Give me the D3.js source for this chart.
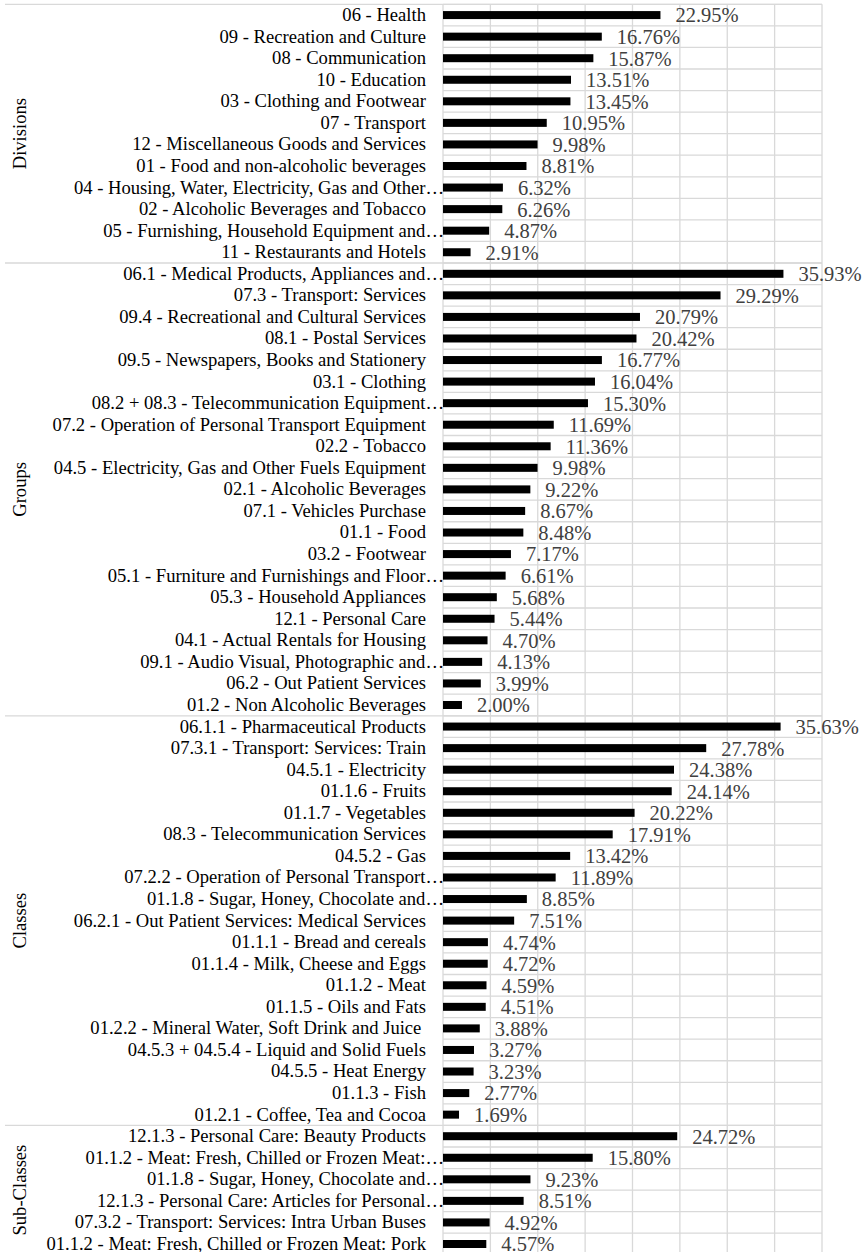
<!DOCTYPE html>
<html>
<head>
<meta charset="utf-8">
<script src="https://cdn.jsdelivr.net/npm/d3@7"></script>
<style>
  body { margin: 0; background: #fff; }
</style>
</head>
<body>
<svg id="chart" width="867" height="1252"></svg>
<script>
const sectionNames = ["Divisions", "Groups", "Classes", "Sub-Classes"];

const divisionLabels = [
  "06 - Health", "09 - Recreation and Culture", "08 - Communication", "10 - Education",
  "03 - Clothing and Footwear", "07 - Transport", "12 - Miscellaneous Goods and Services",
  "01 - Food and non-alcoholic beverages", "04 - Housing, Water, Electricity, Gas and Other…",
  "02 - Alcoholic Beverages and Tobacco", "05 - Furnishing, Household Equipment and…",
  "11 - Restaurants and Hotels"
];
const divisionValues = [22.95, 16.76, 15.87, 13.51, 13.45, 10.95, 9.98, 8.81, 6.32, 6.26, 4.87, 2.91];

const groupLabels = [
  "06.1 - Medical Products, Appliances and…", "07.3 - Transport: Services",
  "09.4 - Recreational and Cultural Services", "08.1 - Postal Services",
  "09.5 - Newspapers, Books and Stationery", "03.1 - Clothing",
  "08.2 + 08.3 - Telecommunication Equipment…", "07.2 - Operation of Personal Transport Equipment",
  "02.2 - Tobacco", "04.5 - Electricity, Gas and Other Fuels Equipment",
  "02.1 - Alcoholic Beverages", "07.1 - Vehicles Purchase", "01.1 - Food", "03.2 - Footwear",
  "05.1 - Furniture and Furnishings and Floor…", "05.3 - Household Appliances",
  "12.1 - Personal Care", "04.1 - Actual Rentals for Housing",
  "09.1 - Audio Visual, Photographic and…", "06.2 - Out Patient Services",
  "01.2 - Non Alcoholic Beverages"
];
const groupValues = [35.93, 29.29, 20.79, 20.42, 16.77, 16.04, 15.30, 11.69, 11.36, 9.98, 9.22,
  8.67, 8.48, 7.17, 6.61, 5.68, 5.44, 4.70, 4.13, 3.99, 2.00];

const classLabels = [
  "06.1.1 - Pharmaceutical Products", "07.3.1 - Transport: Services: Train",
  "04.5.1 - Electricity", "01.1.6 - Fruits", "01.1.7 - Vegetables",
  "08.3 - Telecommunication Services", "04.5.2 - Gas",
  "07.2.2 - Operation of Personal Transport…", "01.1.8 - Sugar, Honey, Chocolate and…",
  "06.2.1 - Out Patient Services: Medical Services", "01.1.1 - Bread and cereals",
  "01.1.4 - Milk, Cheese and Eggs", "01.1.2 - Meat", "01.1.5 - Oils and Fats",
  "01.2.2 - Mineral Water, Soft Drink and Juice ", "04.5.3 + 04.5.4 - Liquid and Solid Fuels",
  "04.5.5 - Heat Energy", "01.1.3 - Fish", "01.2.1 - Coffee, Tea and Cocoa"
];
const classValues = [35.63, 27.78, 24.38, 24.14, 20.22, 17.91, 13.42, 11.89, 8.85, 7.51, 4.74,
  4.72, 4.59, 4.51, 3.88, 3.27, 3.23, 2.77, 1.69];

const subClassLabels = [
  "12.1.3 - Personal Care: Beauty Products", "01.1.2 - Meat: Fresh, Chilled or Frozen Meat:…",
  "01.1.8 - Sugar, Honey, Chocolate and…", "12.1.3 - Personal Care: Articles for Personal…",
  "07.3.2 - Transport: Services: Intra Urban Buses",
  "01.1.2 - Meat: Fresh, Chilled or Frozen Meat: Pork"
];
const subClassValues = [24.72, 15.80, 9.23, 8.51, 4.92, 4.57];

const xTicks = [0, 5, 10, 15, 20, 25, 30, 35, 40];

// build the flat row list
const sections = [
  { name: sectionNames[0], labels: divisionLabels, values: divisionValues },
  { name: sectionNames[1], labels: groupLabels, values: groupValues },
  { name: sectionNames[2], labels: classLabels, values: classValues },
  { name: sectionNames[3], labels: subClassLabels, values: subClassValues }
];
const rows = [];
sections.forEach((s, si) => {
  s.start = rows.length;
  s.labels.forEach((l, i) => rows.push({ label: l, value: s.values[i], section: si }));
  s.end = rows.length;
});

const font = "'Liberation Serif', 'Times New Roman', serif";
const svg = d3.select("#chart").attr("font-family", font);
const plotTop = 4.3, step = 21.56;
const plotLeft = 443, plotRight = 822;

const x = d3.scaleLinear().domain([0, 40]).range([plotLeft, plotRight]);
const y = d3.scaleBand()
  .domain(d3.range(rows.length))
  .range([plotTop, plotTop + rows.length * step]);
const plotBottom = plotTop + rows.length * step;
const grid = "#d9d9d9";

// vertical gridlines
svg.append("g").selectAll("line")
  .data(xTicks)
  .join("line")
  .attr("x1", d => x(d)).attr("x2", d => x(d))
  .attr("y1", plotTop).attr("y2", plotBottom)
  .attr("stroke", grid).attr("stroke-width", 1.3);

// row gridlines
svg.append("g").selectAll("line")
  .data(d3.range(rows.length + 1))
  .join("line")
  .attr("x1", plotLeft).attr("x2", plotRight)
  .attr("y1", i => i < rows.length ? y(i) : plotBottom)
  .attr("y2", i => i < rows.length ? y(i) : plotBottom)
  .attr("stroke", grid).attr("stroke-width", 1.3);

// section separators across the label area
svg.append("g").selectAll("line")
  .data(sections)
  .join("line")
  .attr("x1", 5).attr("x2", plotRight)
  .attr("y1", d => y(d.start)).attr("y2", d => y(d.start))
  .attr("stroke", grid).attr("stroke-width", 1.3);

// bars
const barH = 8;
svg.append("g").selectAll("rect")
  .data(rows)
  .join("rect")
  .attr("x", x(0))
  .attr("y", (d, i) => y(i) + y.bandwidth() / 2 - barH / 2)
  .attr("width", d => x(d.value) - x(0))
  .attr("height", barH)
  .attr("fill", "#000");

// category labels (truncated ones run up to the axis)
svg.append("g").selectAll("text")
  .data(rows)
  .join("text")
  .attr("x", d => d.label.endsWith("…") ? plotLeft + 1 : plotLeft - 17)
  .attr("y", (d, i) => y(i) + y.bandwidth() / 2)
  .attr("dy", "0.32em")
  .attr("text-anchor", "end")
  .attr("font-size", 18.6)
  .style("white-space", "pre")
  .attr("fill", "#000")
  .text(d => d.label);

// value labels
svg.append("g").selectAll("text")
  .data(rows)
  .join("text")
  .attr("x", d => x(d.value) + 15)
  .attr("y", (d, i) => y(i) + y.bandwidth() / 2)
  .attr("dy", "0.36em")
  .attr("font-size", 20.5)
  .attr("fill", "#404040")
  .text(d => d.value.toFixed(2) + "%");

// section titles
svg.append("g").selectAll("text")
  .data(sections)
  .join("text")
  .attr("transform", d => `translate(26,${(y(d.start) + (d.end < rows.length ? y(d.end) : plotBottom)) / 2}) rotate(-90)`)
  .attr("text-anchor", "middle")
  .attr("font-size", 18.6)
  .attr("fill", "#000")
  .text(d => d.name);
</script>
</body>
</html>
